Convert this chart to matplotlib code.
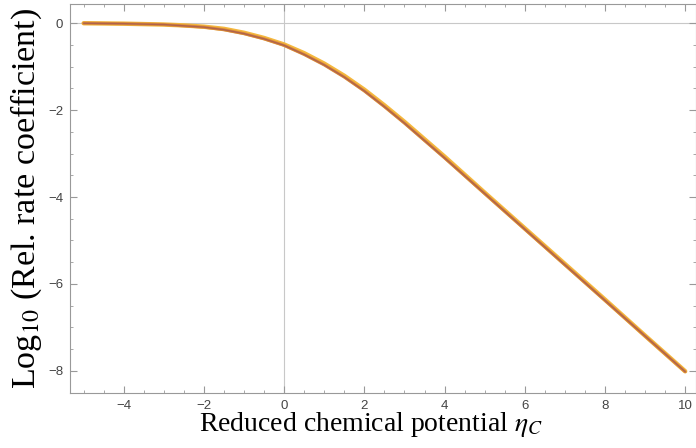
import numpy as np
import matplotlib
matplotlib.use("Agg")
import matplotlib.pyplot as plt
from matplotlib.ticker import MultipleLocator

# values
eta = [-5, -4, -3, -2.5, -2, -1.5, -1, -0.5, 0, 0.5, 1, 1.5, 2, 2.5, 3, 3.5, 4,
       5, 6, 7, 8, 9, 10]
rate_a = [0.00, -0.01, -0.03, -0.06, -0.09, -0.15, -0.24, -0.36, -0.51, -0.72,
          -0.96, -1.24, -1.56, -1.92, -2.30, -2.70, -3.10, -3.92, -4.74, -5.56,
          -6.38, -7.20, -8.02]
rate_b = [0.00, -0.01, -0.03, -0.05, -0.08, -0.13, -0.22, -0.34, -0.49, -0.69,
          -0.93, -1.21, -1.53, -1.89, -2.27, -2.67, -3.07, -3.90, -4.72, -5.54,
          -6.36, -7.19, -8.01]

plt.rcParams['mathtext.fontset'] = 'stix'

fig = plt.figure(figsize=(6.96, 4.48), dpi=100)
ax = fig.add_axes([0.1006, 0.1228, 0.8994, 0.868])

ax.axhline(0, color='#c8c8c8', lw=0.8, zorder=1)
ax.axvline(0, color='#c8c8c8', lw=0.8, zorder=1)

ax.plot(eta, rate_b, color='#f5b83d', lw=3.2, solid_capstyle='round', zorder=2)
ax.plot(eta, rate_a, color='#d88a3a', lw=2.2, solid_capstyle='round', zorder=3)
ax.plot(eta, rate_a, color='#b0624c', lw=1.0, solid_capstyle='round', zorder=4)

ax.set_xlim(-5.34, 10.27)
ax.set_ylim(-8.51, 0.44)

ax.xaxis.set_major_locator(MultipleLocator(2))
ax.xaxis.set_minor_locator(MultipleLocator(0.5))
ax.yaxis.set_major_locator(MultipleLocator(2))
ax.yaxis.set_minor_locator(MultipleLocator(0.5))
ax.tick_params(which='both', direction='in', top=True, right=True,
               color='#999999')
ax.tick_params(which='major', length=5, width=0.8, labelsize=9.5,
               labelcolor='#444444', pad=5)
ax.tick_params(which='minor', length=2.5, width=0.6)
for lab in ax.get_xticklabels() + ax.get_yticklabels():
    lab.set_family('Liberation Sans')
for sp in ax.spines.values():
    sp.set_color('#999999')
    sp.set_linewidth(0.8)

ax.set_xlabel(r'Reduced chemical potential $\eta_C$', family='Liberation Serif',
              fontsize=20, labelpad=0)
ax.xaxis.set_label_coords(0.481, -0.045, transform=ax.transAxes)
ax.xaxis.label.set_va('top')
ax.set_ylabel(r'Log$_{10}$ (Rel. rate coefficient)', family='Liberation Serif',
              fontsize=24.5, labelpad=3)

fig.savefig('out.png', dpi=100)
